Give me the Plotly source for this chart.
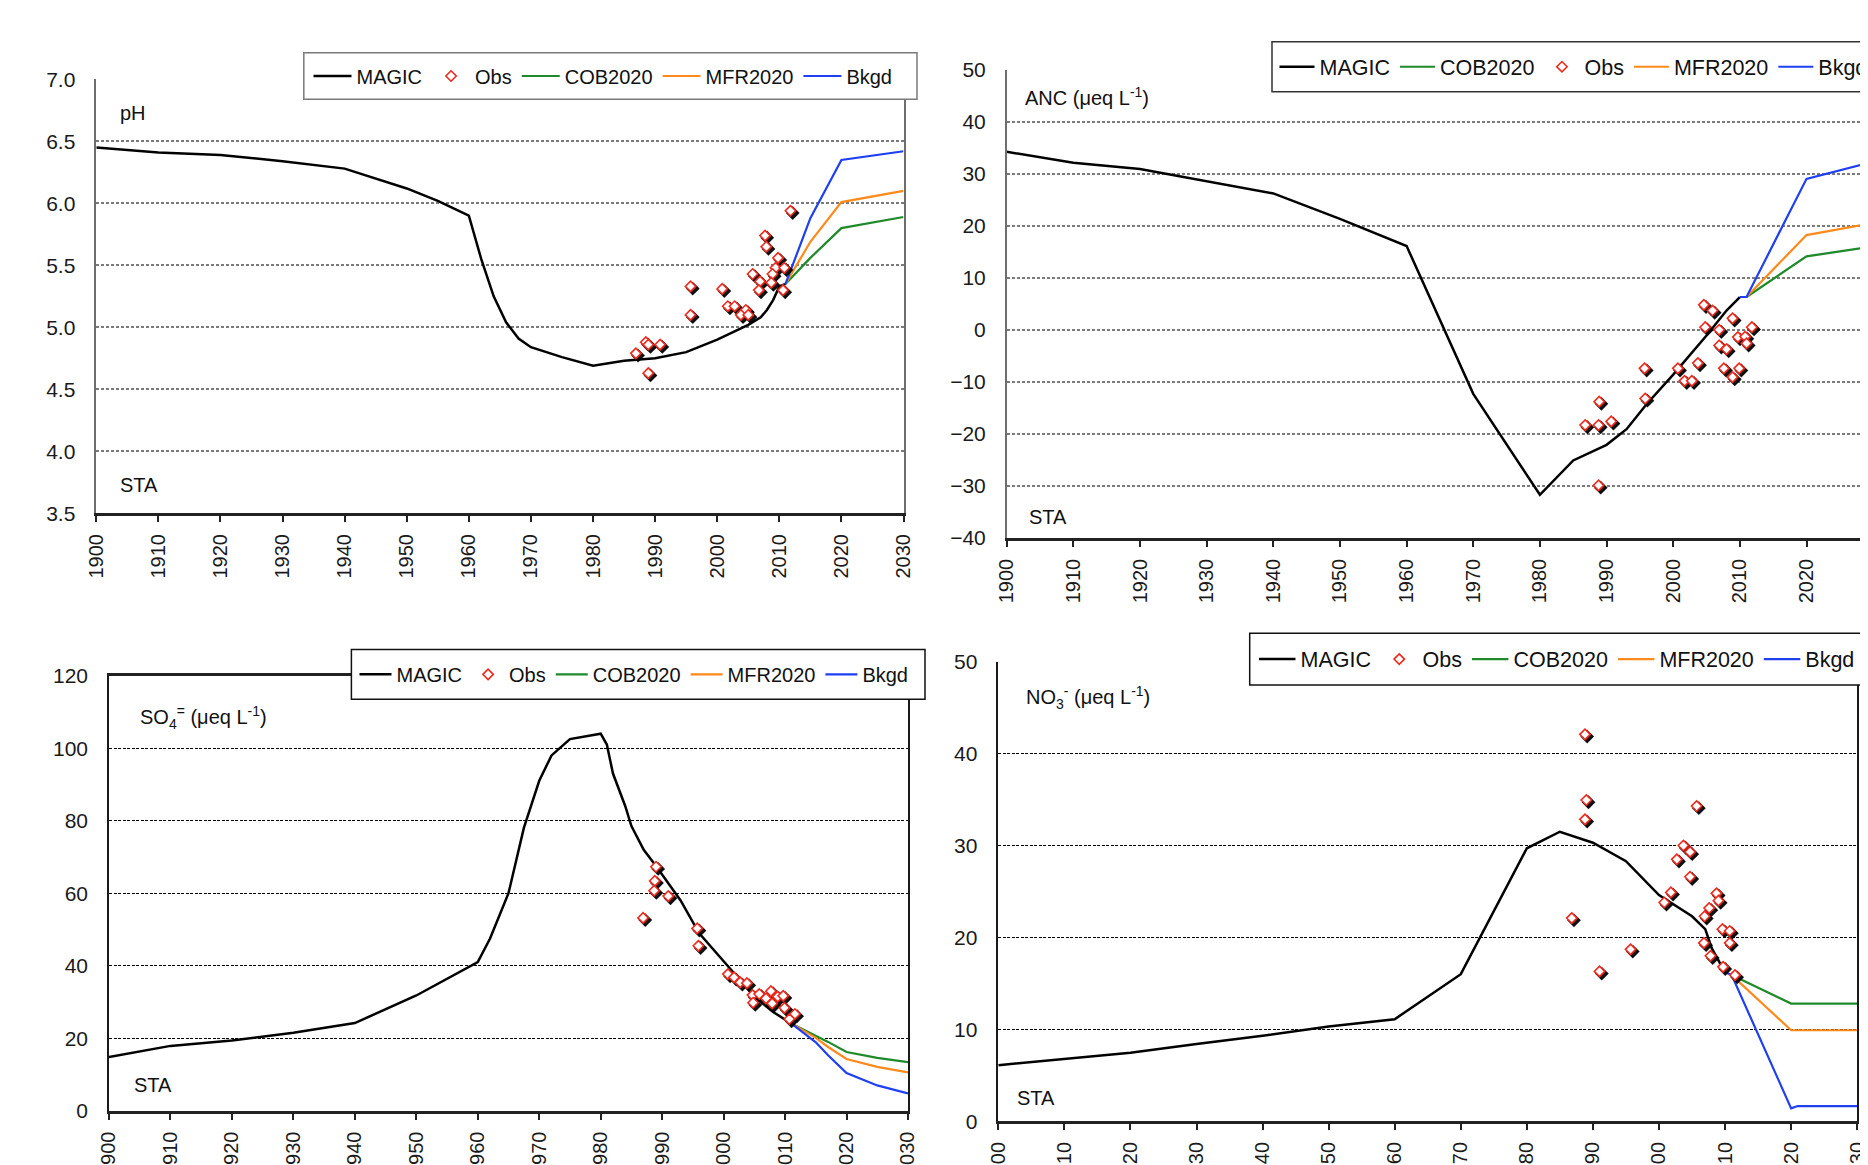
import plotly.graph_objects as go

# Geometry is taken in reference pixels (1868 x 1165 frame). The page body adds an
# 8 px margin, so figure pixel = reference pixel - 8.
OX, OY = 8, 8
W, H = 1868, 1165
FONT = "Liberation Sans, Arial, Helvetica, sans-serif"

# ---------------- data : pH ----------------
ph_magic_years = [1900, 1910, 1920, 1930, 1940, 1950, 1955, 1960, 1962, 1964, 1966, 1968, 1970,
                  1975, 1980, 1985, 1990, 1995, 2000, 2005, 2007, 2008, 2009, 2010, 2011]
ph_magic = [6.45, 6.41, 6.39, 6.34, 6.28, 6.12, 6.02, 5.90, 5.55, 5.25, 5.04, 4.91, 4.84,
            4.76, 4.69, 4.73, 4.75, 4.80, 4.90, 5.02, 5.08, 5.14, 5.22, 5.33, 5.35]
ph_fc_years = [2011, 2015, 2020, 2030]
ph_cob = [5.35, 5.56, 5.80, 5.89]
ph_mfr = [5.35, 5.69, 6.01, 6.10]
ph_bkgd = [5.35, 5.88, 6.35, 6.42]
ph_obs_years = [2011.8, 2007.7, 2007.9, 2009.8, 2009.4, 2010.8, 2005.7, 2008.9, 2006.9, 2008.7,
                2006.7, 2010.6, 1995.7, 2000.8, 1995.7, 2001.7, 2002.8, 2004.6, 2003.8, 2005.0,
                1988.5, 1988.9, 1990.8, 1986.9, 1988.9]
ph_obs = [5.94, 5.74, 5.65, 5.56, 5.48, 5.48, 5.43, 5.43, 5.37, 5.36,
          5.30, 5.30, 5.33, 5.31, 5.10, 5.17, 5.17, 5.14, 5.10, 5.10,
          4.88, 4.86, 4.86, 4.79, 4.63]

# ---------------- data : ANC ----------------
anc_magic_years = [1900, 1910, 1920, 1930, 1940, 1950, 1960, 1970, 1980, 1985, 1990, 1993,
                   1996, 2000, 2005, 2008, 2010]
anc_magic = [34.2, 32.1, 30.9, 28.5, 26.2, 21.3, 16.1, -12.3, -31.7, -25.1, -22.1, -19.1,
             -14.3, -8.6, -1.1, 3.7, 6.3]
anc_fc_years = [2011, 2020, 2030]
anc_cob = [6.3, 14.1, 16.0]
anc_mfr = [6.3, 18.2, 20.5]
anc_bkgd_years = [2010, 2011, 2020, 2030]
anc_bkgd = [6.3, 6.3, 29.0, 32.3]
anc_obs_years = [2004.6, 2005.9, 2008.9, 2004.8, 2006.9, 2011.8, 2009.7, 2010.8, 2011.0, 2006.9,
                 2008.0, 1995.7, 2000.7, 2003.7, 2007.6, 2009.9, 2008.9, 2001.7, 2002.8, 1995.8,
                 1988.9, 1986.8, 1988.8, 1990.7, 1988.8]
anc_obs = [4.8, 3.7, 2.2, 0.5, 0.0, 0.5, -1.4, -1.3, -2.6, -3.0,
           -3.7, -7.4, -7.4, -6.4, -7.4, -7.4, -9.1, -9.8, -9.8, -13.2,
           -13.8, -18.3, -18.3, -17.6, -29.9]

# ---------------- data : SO4 ----------------
so4_magic_years = [1900, 1910, 1920, 1930, 1940, 1950, 1960, 1962, 1965, 1967.5, 1970, 1972,
                   1975, 1978, 1980, 1981, 1982, 1984, 1985, 1987, 1989, 1993, 1996, 2001,
                   2005, 2008, 2011]
so4_magic = [14.8, 17.9, 19.4, 21.5, 24.2, 31.8, 41.0, 47.5, 60.0, 78.0, 91.0, 98.0,
             102.5, 103.5, 104.0, 101.0, 93.0, 84.0, 78.5, 72.0, 67.5, 58.0, 49.0, 39.3,
             31.5, 27.3, 24.1]
so4_fc_years = [2011, 2015, 2017, 2020, 2025, 2030]
so4_cob = [24.1, 20.8, 19.0, 16.2, 14.6, 13.4]
so4_mfr = [24.1, 20.1, 17.6, 14.3, 12.1, 10.6]
so4_bkgd = [24.1, 18.9, 15.3, 10.4, 7.0, 4.8]
so4_obs_years = [1989.0, 1988.8, 1988.7, 1991.0, 1986.9, 1995.7, 1995.9, 2000.7, 2001.7, 2002.7,
                 2003.8, 2004.7, 2005.8, 2004.8, 2006.9, 2007.7, 2007.9, 2008.8, 2009.7, 2009.9,
                 2011.6, 2010.7]
so4_obs = [67.3, 63.4, 60.7, 59.2, 53.2, 50.3, 45.5, 37.7, 36.8, 35.4,
           35.2, 31.9, 32.2, 29.8, 31.0, 33.0, 29.6, 31.5, 31.7, 28.4,
           26.7, 25.3]

# ---------------- data : NO3 ----------------
no3_magic_years = [1900, 1910, 1920, 1930, 1940, 1950, 1960, 1970, 1980, 1985, 1990, 1995,
                   2000, 2005, 2007, 2008, 2010]
no3_magic = [6.1, 6.8, 7.45, 8.4, 9.3, 10.3, 11.1, 16.0, 29.7, 31.5, 30.3, 28.3,
             24.6, 22.3, 20.9, 18.8, 16.2]
no3_fc_years = [2011, 2020, 2030]
no3_cob = [15.9, 12.8, 12.8]
no3_mfr = [15.9, 9.9, 9.9]
no3_bkgd_years = [2010, 2011, 2020, 2021, 2030]
no3_bkgd = [16.2, 15.9, 1.4, 1.65, 1.65]
no3_obs_years = [1988.8, 1989.0, 1988.8, 2005.7, 2003.7, 2004.7, 2002.7, 2004.7, 2001.8, 2000.8,
                 2008.7, 2009.0, 2007.6, 2006.9, 1986.8, 2009.6, 2010.7, 2010.7, 2006.8, 2007.8,
                 1995.7, 1991.0, 2009.7, 2011.5]
no3_obs = [42.1, 34.95, 32.85, 34.3, 30.0, 29.3, 28.5, 26.6, 24.9, 23.8,
           24.8, 24.0, 23.2, 22.3, 22.1, 20.9, 20.7, 19.4, 19.4, 18.0,
           18.7, 16.3, 16.8, 15.9]

year_ticks = list(range(1900, 2031, 10))

# ---------------- styles ----------------
C_MAGIC = "#000000"
C_COB = "#1e8a2a"
C_MFR = "#ff8a1c"
C_BKGD = "#1f3ff2"
C_OBS = "#ee2a1e"


def px_x(p):
    return (p - OX) / W


def px_y(p):
    return 1 - (p - OY) / H


VIS_R = OX + W  # right edge of the figure in reference pixels

panels = [
    dict(ax="", x0=96.3, x1=903.5, y0=79.3, y1=513.3, yr=[3.5, 7.0],
         dtick=0.5, fmt=".1f", top=True, rmirror=True, xmirror=False,
         magic=(ph_magic_years, ph_magic), fcy=ph_fc_years, cob=ph_cob, mfr=ph_mfr,
         bk=(ph_fc_years, ph_bkgd), obs=(ph_obs_years, ph_obs),
         legend="legend", obs_rank=2, cob_rank=3),
    dict(ax="2", x0=1006.7, x1=1006.7 + 130 * 6.665, y0=69.5, y1=538.0, yr=[-40, 50],
         dtick=10, fmt="d", top=True, rmirror=False, xmirror=False,
         magic=(anc_magic_years, anc_magic), fcy=anc_fc_years, cob=anc_cob, mfr=anc_mfr,
         bk=(anc_bkgd_years, anc_bkgd), obs=(anc_obs_years, anc_obs),
         legend="legend2", obs_rank=3, cob_rank=2),
    dict(ax="3", x0=109.0, x1=908.0, y0=675.6, y1=1110.8, yr=[0, 120],
         dtick=20, fmt="d", top=False, rmirror=True, xmirror=True,
         magic=(so4_magic_years, so4_magic), fcy=so4_fc_years, cob=so4_cob, mfr=so4_mfr,
         bk=(so4_fc_years, so4_bkgd), obs=(so4_obs_years, so4_obs),
         legend="legend3", obs_rank=2, cob_rank=3),
    dict(ax="4", x0=998.3, x1=1857.2, y0=661.7, y1=1121.2, yr=[0, 50],
         dtick=10, fmt="d", top=False, rmirror=True, xmirror=False,
         magic=(no3_magic_years, no3_magic), fcy=no3_fc_years, cob=no3_cob, mfr=no3_mfr,
         bk=(no3_bkgd_years, no3_bkgd), obs=(no3_obs_years, no3_obs),
         legend="legend4", obs_rank=2, cob_rank=3),
]

fig = go.Figure()
layout_axes = {}

for p in panels:
    xa = "x" + p["ax"]
    ya = "y" + p["ax"]
    topstyle = p["top"]
    gridcolor = "#7a7a7a" if topstyle else "#000000"
    griddash = "3px,2px" if topstyle else "3px,1.5px"
    gridwidth = 1.5 if topstyle else 1
    linecol_y = "#6e6e6e" if topstyle else "#1a1a1a"

    ppx = (p["x1"] - p["x0"]) / 130.0  # pixels per year (1900-2030)
    x1vis = min(p["x1"], VIS_R)
    xr = [1900, 1900 + (x1vis - p["x0"]) / ppx]

    layout_axes["xaxis" + p["ax"]] = dict(
        domain=[px_x(p["x0"]), px_x(x1vis)], range=xr, anchor=ya,
        tickmode="array", tickvals=year_ticks, ticktext=[str(v) for v in year_ticks],
        tickangle=-90, ticks="outside", ticklen=6, tickwidth=1.5, tickcolor="#222",
        showline=True, linecolor="#222", linewidth=2.5, mirror=p["xmirror"],
        showgrid=False, zeroline=False, ticklabelstandoff=4, automargin=False,
        tickfont=dict(family=FONT, size=20, color="#1a1a1a"), fixedrange=True)
    yr = list(p["yr"])
    layout_axes["yaxis" + p["ax"]] = dict(
        domain=[px_y(p["y1"]), px_y(p["y0"])], range=[yr[0], yr[1] + (yr[1] - yr[0]) * 1e-4],
        anchor=xa, dtick=p["dtick"], tick0=0, tickformat=p["fmt"],
        ticks="", ticklabelstandoff=15, automargin=False,
        showline=True, linecolor=linecol_y, linewidth=1.5, mirror=p["rmirror"],
        showgrid=True, gridcolor=gridcolor, griddash=griddash, gridwidth=gridwidth,
        zeroline=False,
        tickfont=dict(family=FONT, size=21, color="#1a1a1a"), fixedrange=True)

    # shadow offsets derived from axis pixel scales (2 px right, 2 px down)
    ppy = (p["y1"] - p["y0"]) / (p["yr"][1] - p["yr"][0])
    sdx = 2.2 / ppx
    sdy = 2.2 / ppy

    common = dict(xaxis=xa, yaxis=ya, legend=p["legend"])
    fig.add_trace(go.Scatter(x=p["magic"][0], y=p["magic"][1], mode="lines", name="MAGIC",
                             line=dict(color=C_MAGIC, width=2.5), legendrank=1, **common))
    fig.add_trace(go.Scatter(x=p["fcy"], y=p["cob"], mode="lines", name="COB2020",
                             line=dict(color=C_COB, width=2.2), legendrank=p["cob_rank"], **common))
    fig.add_trace(go.Scatter(x=p["fcy"], y=p["mfr"], mode="lines", name="MFR2020",
                             line=dict(color=C_MFR, width=2.2), legendrank=4, **common))
    fig.add_trace(go.Scatter(x=p["bk"][0], y=p["bk"][1], mode="lines", name="Bkgd",
                             line=dict(color=C_BKGD, width=2.2), legendrank=5, **common))
    ox, oy = p["obs"]
    fig.add_trace(go.Scatter(x=[v + sdx for v in ox], y=[v - sdy for v in oy], mode="markers",
                             name="Obs shadow", showlegend=False, hoverinfo="skip",
                             marker=dict(symbol="diamond", size=9, color="rgba(0,0,0,0.9)",
                                         line=dict(color="rgba(0,0,0,0.9)", width=1.5)),
                             **common))
    fig.add_trace(go.Scatter(x=ox, y=oy, mode="markers", name="Obs",
                             marker=dict(symbol="diamond", size=8, color="#ffffff",
                                         line=dict(color=C_OBS, width=1.6)),
                             legendrank=p["obs_rank"], **common))

# legend boxes (drawn as shapes) and legends
legend_boxes = [
    dict(x0=303.8, x1=917.0, y0=52.7, y1=99.3, col="#7a7a7a", name="legend",
         tx=308.5, iw=38, fs=20),
    dict(x0=1272.0, x1=1890.0, y0=41.8, y1=91.7, col="#333333", name="legend2",
         tx=1274.5, iw=35, fs=21.5),
    dict(x0=351.4, x1=925.0, y0=649.5, y1=699.2, col="#111111", name="legend3",
         tx=354.5, iw=32, fs=20),
    dict(x0=1249.7, x1=1890.0, y0=633.2, y1=685.0, col="#111111", name="legend4",
         tx=1254.0, iw=36.5, fs=21.5),
]
shapes = []
legends = {}
for b in legend_boxes:
    shapes.append(dict(type="rect", xref="paper", yref="paper", layer="above",
                       x0=px_x(b["x0"]), x1=px_x(b["x1"]), y0=px_y(b["y1"]), y1=px_y(b["y0"]),
                       fillcolor="#ffffff", line=dict(color=b["col"], width=1.5)))
    legends[b["name"]] = dict(
        x=px_x(b["tx"]), y=px_y((b["y0"] + b["y1"]) / 2), xanchor="left", yanchor="middle",
        orientation="h", bgcolor="rgba(0,0,0,0)", borderwidth=0, itemwidth=b["iw"],
        font=dict(family=FONT, size=b["fs"], color="#111111"),
        itemclick=False, itemdoubleclick=False)

labels = [
    ("pH", 118, 113), ("STA", 118, 485),
    ("ANC (μeq L<sup>-1</sup>)", 1023, 97), ("STA", 1027, 517),
    ("SO<sub>4</sub><sup>=</sup> (μeq L<sup>-1</sup>)", 138, 717), ("STA", 132, 1085),
    ("NO<sub>3</sub><sup>-</sup> (μeq L<sup>-1</sup>)", 1024, 697), ("STA", 1015, 1098),
]
annotations = [dict(text=t, x=px_x(x), y=px_y(y), xref="paper", yref="paper",
                    xanchor="left", yanchor="middle", showarrow=False,
                    font=dict(family=FONT, size=20, color="#111111"))
               for t, x, y in labels]

fig.update_layout(
    width=W, height=H, margin=dict(l=0, r=0, t=0, b=0, pad=0, autoexpand=False),
    paper_bgcolor="#ffffff", plot_bgcolor="#ffffff",
    showlegend=True, shapes=shapes, annotations=annotations,
    font=dict(family=FONT, size=19, color="#111111"),
    **layout_axes, **legends)

fig.write_html("out.html")
